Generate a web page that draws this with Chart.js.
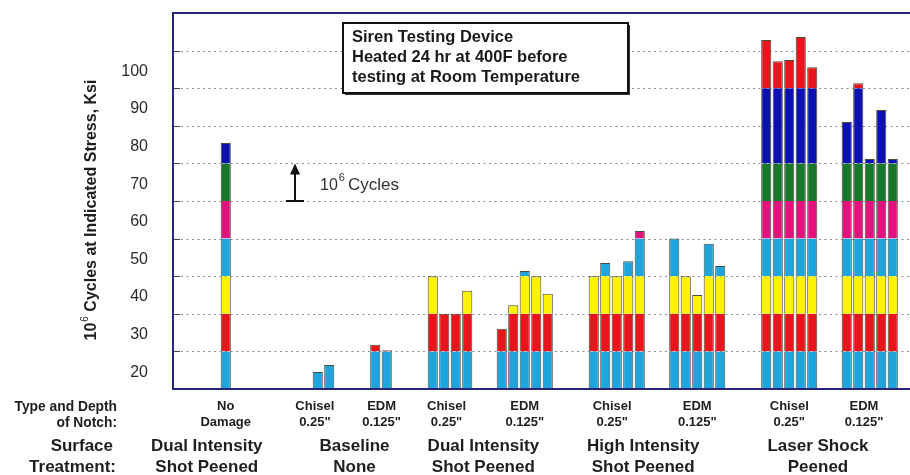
<!DOCTYPE html>
<html>
<head>
<meta charset="utf-8">
<script src="https://cdn.jsdelivr.net/npm/chart.js@4.4.1/dist/chart.umd.min.js"></script>
<style>
  html, body { margin: 0; padding: 0; background: #fff; overflow: hidden; }
  #wrap { width: 910px; height: 475px; position: relative; }
</style>
</head>
<body>
<div id="wrap"><canvas id="c" width="910" height="475"></canvas></div>
<script>
// Highest stress (ksi) each specimen survived for 10^6 cycles
const noDamage       = [80.4];
const baselineChisel = [19.5, 21.4];
const baselineEDM    = [26.8, 25.3];
const dualChisel     = [45, 35, 35, 41.1];
const dualEDM        = [31, 37.3, 46.4, 45, 40.3];
const highChisel     = [45, 48.5, 45, 49, 57];
const highEDM        = [55, 45, 40, 53.6, 47.7];
const laserChisel    = [107.8, 102.2, 102.5, 108.6, 100.6];
const laserEDM       = [86, 96.3, 76.2, 89.2, 76.2];

// Stress steps (ksi): each step is one coloured band of a bar
const stepEdges  = [15, 25, 35, 45, 55, 65, 75, 95, 115];
const stepColors = ['#1fa5dd', '#e8161c', '#fff200', '#1fa5dd', '#e4127f', '#17782b', '#0b10b0', '#e8161c'];
const stressTicks = [20, 30, 40, 50, 60, 70, 80, 90, 100];

const notchLabels = [
  ['No', 'Damage'], ['Chisel', '0.25"'], ['EDM', '0.125"'],
  ['Chisel', '0.25"'], ['EDM', '0.125"'], ['Chisel', '0.25"'],
  ['EDM', '0.125"'], ['Chisel', '0.25"'], ['EDM', '0.125"']
];
const treatmentLabels = [
  ['Dual Intensity', 'Shot Peened'], ['Baseline', 'None'],
  ['Dual Intensity', 'Shot Peened'], ['High Intensity', 'Shot Peened'],
  ['Laser Shock', 'Peened']
];
const noteLines = ['Siren Testing Device', 'Heated 24 hr at 400F before', 'testing at Room Temperature'];

const FONT = '"Liberation Sans", Arial, Helvetica, sans-serif';

// One category slot per specimen, with empty slots spacing the groups apart
const specimenGroups = [noDamage, baselineChisel, baselineEDM, dualChisel, dualEDM,
                        highChisel, highEDM, laserChisel, laserEDM];
const emptyBefore = [4, 7, 3, 3, 2, 3, 2, 3, 2];
const emptyAfter = 1;
const tops = [];
specimenGroups.forEach((group, g) => {
  for (let k = 0; k < emptyBefore[g]; k++) tops.push(null);
  group.forEach(v => tops.push(v));
});
for (let k = 0; k < emptyAfter; k++) tops.push(null);
const slots = tops.map((_, i) => 'slot' + i);

// Label anchor positions along the category axis (slot units)
const notchSlots = [4, 11.75, 17.55, 23.2, 30, 37.6, 45, 53, 59.5];
const treatmentSlots = [2.35, 15.2, 26.4, 40.3, 55.5];

const datasets = stepColors.map((color, b) => {
  const lo = stepEdges[b], hi = stepEdges[b + 1];
  return {
    data: tops.map(t => (t == null || t <= lo) ? null : [lo, Math.min(t, hi)]),
    backgroundColor: color,
    borderColor: 'rgba(45,45,25,0.85)',
    borderWidth: ctx => {
      const t = tops[ctx.dataIndex];
      return { left: 1, right: 1, bottom: 0, top: (t != null && t <= hi) ? 1 : 0 };
    },
    borderSkipped: false,
    grouped: false,
    barPercentage: 0.88,
    categoryPercentage: 1
  };
});

const decorations = {
  id: 'decorations',
  beforeDatasetsDraw(chart) {
    const { ctx, chartArea: a, scales: { y } } = chart;
    ctx.save();
    for (let v = 25; v <= 105; v += 10) {
      const py = Math.round(y.getPixelForValue(v)) + 0.5;
      ctx.strokeStyle = '#8c8c8c';
      ctx.lineWidth = 1;
      ctx.setLineDash([2, 3.5]);
      ctx.beginPath();
      ctx.moveTo(a.left + 7, py);
      ctx.lineTo(a.right, py);
      ctx.stroke();
      ctx.setLineDash([]);
      ctx.strokeStyle = '#444';
      ctx.beginPath();
      ctx.moveTo(a.left, py);
      ctx.lineTo(a.left + 6, py);
      ctx.stroke();
    }
    ctx.restore();
  },
  afterDatasetsDraw(chart) {
    const { ctx, chartArea: a, scales: { x, y } } = chart;
    ctx.save();
    // plot frame
    ctx.strokeStyle = '#25257a';
    ctx.lineWidth = 2;
    ctx.beginPath();
    ctx.moveTo(a.right + 2, a.top);
    ctx.lineTo(a.left - 1, a.top);
    ctx.lineTo(a.left - 1, a.bottom);
    ctx.lineTo(a.right + 2, a.bottom);
    ctx.stroke();

    // note box
    const bx = 343, by = 23, bw = 285, bh = 70;
    ctx.fillStyle = '#333';
    ctx.fillRect(bx + 2, by + 2, bw, bh);
    ctx.fillStyle = '#fff';
    ctx.fillRect(bx, by, bw, bh);
    ctx.strokeStyle = '#111';
    ctx.lineWidth = 2;
    ctx.strokeRect(bx, by, bw, bh);
    ctx.fillStyle = '#1a1a1a';
    ctx.font = 'bold 16.5px ' + FONT;
    ctx.textAlign = 'left';
    ctx.textBaseline = 'middle';
    noteLines.forEach((t, i) => ctx.fillText(t, bx + 9, by + 14 + i * 20));

    // 10^6 cycles arrow
    const ax = Math.round(x.getPixelForValue(10));
    const yTip = y.getPixelForValue(75), yBase = y.getPixelForValue(65);
    ctx.strokeStyle = '#111';
    ctx.fillStyle = '#111';
    ctx.lineWidth = 2;
    ctx.beginPath();
    ctx.moveTo(ax, yTip + 6);
    ctx.lineTo(ax, yBase);
    ctx.moveTo(ax - 9, yBase);
    ctx.lineTo(ax + 9, yBase);
    ctx.stroke();
    ctx.beginPath();
    ctx.moveTo(ax, yTip);
    ctx.lineTo(ax - 5, yTip + 11);
    ctx.lineTo(ax + 5, yTip + 11);
    ctx.closePath();
    ctx.fill();
    const ty = (yTip + yBase) / 2 + 3;
    ctx.fillStyle = '#333';
    ctx.font = '16px ' + FONT;
    let tx = ax + 25;
    ctx.fillText('10', tx, ty);
    tx += ctx.measureText('10').width + 1;
    ctx.font = '11px ' + FONT;
    ctx.fillText('6', tx, ty - 7);
    tx += ctx.measureText('6').width + 3;
    ctx.font = '17px ' + FONT;
    ctx.fillText('Cycles', tx, ty);
    ctx.restore();
  },
  afterDraw(chart) {
    const { ctx, scales: { x } } = chart;
    ctx.save();
    ctx.fillStyle = '#1e1e1e';
    ctx.textBaseline = 'middle';

    // notch row
    ctx.font = 'bold 13.8px ' + FONT;
    ctx.textAlign = 'right';
    ctx.fillText('Type and Depth', 117, 407);
    ctx.fillText('of Notch:', 117, 423);
    ctx.font = 'bold 13px ' + FONT;
    ctx.textAlign = 'center';
    notchLabels.forEach((lines, i) => {
      const px = x.getPixelForValue(notchSlots[i]);
      ctx.fillText(lines[0], px, 406);
      ctx.fillText(lines[1], px, 422);
    });

    // treatment row
    ctx.font = 'bold 17px ' + FONT;
    ctx.textAlign = 'right';
    ctx.fillText('Surface', 113, 446);
    ctx.fillText('Treatment:', 116, 467);
    ctx.textAlign = 'center';
    treatmentLabels.forEach((lines, i) => {
      const px = x.getPixelForValue(treatmentSlots[i]);
      ctx.fillText(lines[0], px, 446);
      ctx.fillText(lines[1], px, 467);
    });

    // rotated y-axis title with superscript
    ctx.translate(92, 210);
    ctx.rotate(-Math.PI / 2);
    const big = 'bold 16px ' + FONT, small = '10px ' + FONT;
    const rest = ' Cycles at Indicated Stress, Ksi';
    ctx.font = big;
    const w1 = ctx.measureText('10').width, w3 = ctx.measureText(rest).width;
    ctx.font = small;
    const w2 = ctx.measureText('6').width + 1;
    let px = -(w1 + w2 + w3) / 2;
    ctx.textAlign = 'left';
    ctx.font = big;
    ctx.fillText('10', px, 0);
    px += w1;
    ctx.font = small;
    ctx.fillText('6', px + 1, -7);
    px += w2;
    ctx.font = big;
    ctx.fillText(rest, px, 0);
    ctx.restore();
  }
};

new Chart(document.getElementById('c'), {
  type: 'bar',
  data: { labels: slots, datasets },
  options: {
    responsive: false,
    devicePixelRatio: 1,
    animation: false,
    layout: { padding: { top: 13, bottom: 86, left: 0, right: 0 } },
    plugins: { legend: { display: false }, tooltip: { enabled: false } },
    scales: {
      x: { display: false, offset: true },
      y: {
        min: 15, max: 115,
        afterBuildTicks: s => { s.ticks = stressTicks.map(v => ({ value: v })); },
        afterFit: s => { s.width = 174; s.paddingTop = 0; s.paddingBottom = 0; },
        grid: { display: false, drawTicks: false },
        border: { display: false },
        ticks: {
          autoSkip: false,
          padding: 26,
          labelOffset: 2,
          color: '#2a2a2a',
          font: { size: 16, family: FONT },
          callback: v => String(v)
        }
      }
    }
  },
  plugins: [decorations]
});
</script>
</body>
</html>
